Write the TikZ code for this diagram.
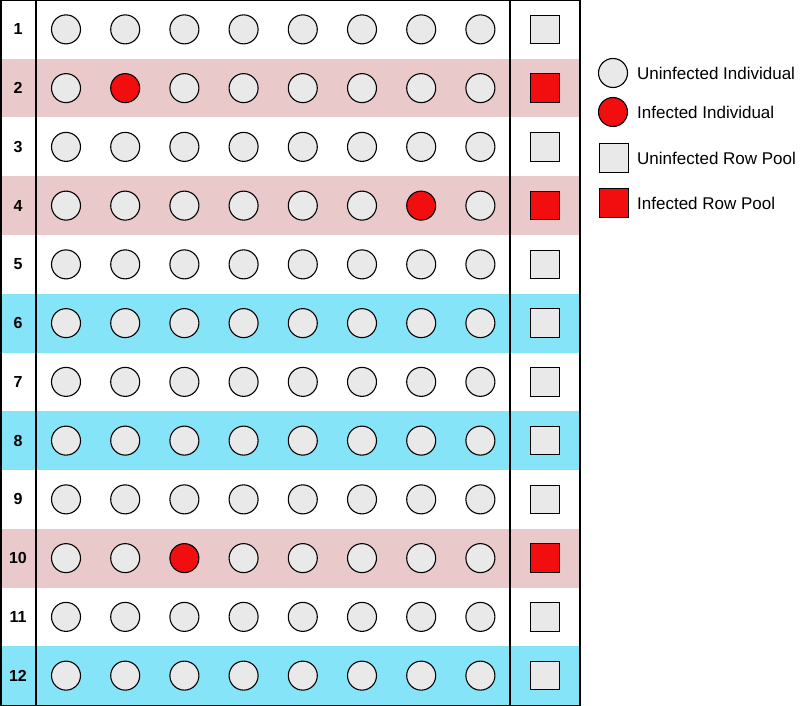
\documentclass[tikz,border=0pt]{standalone}
\usepackage{fontspec}
\setmainfont{Liberation Sans}
\definecolor{pinkband}{RGB}{233,201,202}
\definecolor{cyanband}{RGB}{134,228,249}
\definecolor{grayfill}{RGB}{233,233,233}
\definecolor{infred}{RGB}{242,14,14}
\begin{document}
\begin{tikzpicture}[x=1pt,y=-1pt,
  indiv/.style={circle, draw=black, line width=1.1pt, fill=grayfill, minimum size=29pt, inner sep=0pt},
  pool/.style={rectangle, draw=black, line width=1.1pt, fill=grayfill, minimum size=28.5pt, inner sep=0pt},
  rowlabel/.style={font=\fontsize{16}{19}\selectfont\bfseries, inner sep=0pt},
  legtext/.style={font=\fontsize{17}{20}\selectfont, anchor=west, inner sep=0pt},
  frame/.style={draw=black, line width=1.5pt}]
\useasboundingbox (0,0) rectangle (800,706);
\fill[white] (0,0) rectangle (800,706);
% bands
\foreach \r/\col in {2/pinkband,4/pinkband,10/pinkband,6/cyanband,8/cyanband,12/cyanband}
  \fill[\col] (0,{(\r-1)*58.75}) rectangle (580,{\r*58.75});
% frame
\draw[frame] (0.75,0.75) rectangle (579.75,705.25);
\draw[frame] (36,0.75) -- (36,705.25);
\draw[frame] (510,0.75) -- (510,705.25);
% rows
\foreach \r in {1,...,12} {
  \node[rowlabel] (l-\r) at (18,{(\r-0.5)*58.75}) {\r};
  \foreach \c in {1,...,8} {
    \def\f{grayfill}
    \ifnum\r=2 \ifnum\c=2 \def\f{infred}\fi\fi
    \ifnum\r=4 \ifnum\c=7 \def\f{infred}\fi\fi
    \ifnum\r=10 \ifnum\c=3 \def\f{infred}\fi\fi
    \node[indiv, fill=\f] (c-\r-\c) at ({66+(\c-1)*59.2},{(\r-0.5)*58.75}) {};
  }
  \def\g{grayfill}
  \ifnum\r=2 \def\g{infred}\fi
  \ifnum\r=4 \def\g{infred}\fi
  \ifnum\r=10 \def\g{infred}\fi
  \node[pool, fill=\g] (p-\r) at (545,{(\r-0.5)*58.75}) {};
}
% legend
\node[indiv] (lg1) at (613,73) {};
\node[legtext] (lt1) at (637,73) {Uninfected Individual};
\node[indiv, fill=infred] (lg2) at (613,112) {};
\node[legtext] (lt2) at (637,112) {Infected Individual};
\node[pool] (lg3) at (614,158) {};
\node[legtext] (lt3) at (637,158) {Uninfected Row Pool};
\node[pool, fill=infred] (lg4) at (614,203) {};
\node[legtext] (lt4) at (637,203) {Infected Row Pool};
\end{tikzpicture}
\end{document}
